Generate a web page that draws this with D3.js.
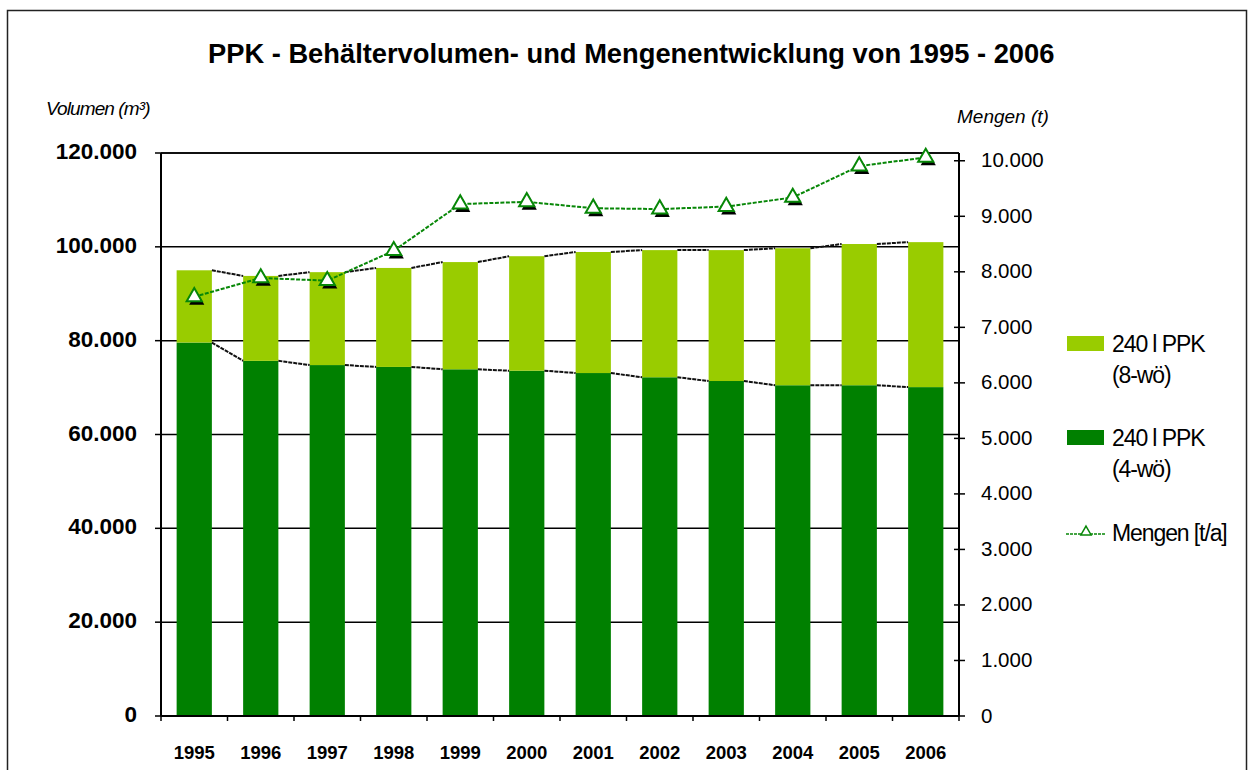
<!DOCTYPE html>
<html>
<head>
<meta charset="utf-8">
<script src="https://cdn.jsdelivr.net/npm/d3@7"></script>
<style>
  body { margin: 0; background: #fff; }
  svg { display: block; font-family: "Liberation Sans", Arial, sans-serif; }
</style>
</head>
<body>
<svg width="1252" height="770"></svg>
<script>
// data
var years = ["1995","1996","1997","1998","1999","2000","2001","2002","2003","2004","2005","2006"];
var vol4wo = [79600, 75700, 74800, 74400, 73900, 73600, 73100, 72200, 71400, 70500, 70500, 70100];
var vol8wo = [15400, 18100, 19800, 21100, 22850, 24400, 25800, 27100, 27900, 29200, 30100, 30900];
var mengen = [7550, 7890, 7840, 8380, 9220, 9260, 9145, 9130, 9175, 9340, 9905, 10060];
var leftTicks = [0, 20000, 40000, 60000, 80000, 100000, 120000];
var rightTicks = [0, 1000, 2000, 3000, 4000, 5000, 6000, 7000, 8000, 9000, 10000];

var svg = d3.select("svg"),
    plot = {left: 161, right: 959, top: 153, bottom: 716};

var de = d3.formatLocale({decimal: ",", thousands: ".", grouping: [3], currency: ["", " €"]});
var fmt = de.format(",d");

// outer frame
svg.append("rect")
    .attr("x", 7.5).attr("y", 10.5)
    .attr("width", 1239).attr("height", 800)
    .attr("fill", "none").attr("stroke", "#222").attr("stroke-width", 1.5);

svg.append("text")
    .attr("x", 208).attr("y", 63)
    .attr("font-weight", "bold")
    .attr("font-size", 27.3)
    .text("PPK - Behältervolumen- und Mengenentwicklung von 1995 - 2006");

// scales
var x = d3.scaleBand()
    .domain(years)
    .range([plot.left, plot.right])
    .paddingInner(0.47)
    .paddingOuter(0.235);

var yL = d3.scaleLinear().domain([0, 120000]).range([plot.bottom, plot.top]);
var yR = d3.scaleLinear().domain([0, 10140]).range([plot.bottom, plot.top]);

var g = svg.append("g");

// gridlines
g.selectAll(".grid")
    .data(leftTicks)
    .enter().append("line")
    .attr("x1", plot.left).attr("x2", plot.right)
    .attr("y1", function(d) { return yL(d); })
    .attr("y2", function(d) { return yL(d); })
    .attr("stroke", "#000").attr("stroke-width", 1.5);

// stacked bars
var stackData = years.map(function(y, i) { return {year: y, a: vol4wo[i], b: vol8wo[i]}; });

g.selectAll(".bar4")
    .data(stackData)
    .enter().append("rect")
    .attr("x", function(d) { return x(d.year); })
    .attr("width", x.bandwidth())
    .attr("y", function(d) { return yL(d.a); })
    .attr("height", function(d) { return yL(0) - yL(d.a); })
    .attr("fill", "#008000");

g.selectAll(".bar8")
    .data(stackData)
    .enter().append("rect")
    .attr("x", function(d) { return x(d.year); })
    .attr("width", x.bandwidth())
    .attr("y", function(d) { return yL(d.a + d.b); })
    .attr("height", function(d) { return yL(d.a) - yL(d.a + d.b); })
    .attr("fill", "#99cc00");

// series lines between bar tops
function seriesLines(val) {
  for (var i = 0; i < stackData.length - 1; i++) {
    g.append("line")
        .attr("x1", x(stackData[i].year) + x.bandwidth())
        .attr("x2", x(stackData[i + 1].year))
        .attr("y1", yL(val(stackData[i])))
        .attr("y2", yL(val(stackData[i + 1])))
        .attr("stroke", "#111").attr("stroke-width", 2)
        .attr("stroke-dasharray", "4,1");
  }
}
seriesLines(function(d) { return d.a; });
seriesLines(function(d) { return d.a + d.b; });

// axes frame
g.append("line").attr("x1", plot.left).attr("x2", plot.left)
    .attr("y1", plot.top).attr("y2", plot.bottom)
    .attr("stroke", "#000").attr("stroke-width", 2);
g.append("line").attr("x1", plot.right).attr("x2", plot.right)
    .attr("y1", plot.top).attr("y2", plot.bottom)
    .attr("stroke", "#000").attr("stroke-width", 2);
g.append("line").attr("x1", plot.left).attr("x2", plot.right)
    .attr("y1", plot.top).attr("y2", plot.top)
    .attr("stroke", "#000").attr("stroke-width", 1.5);
g.append("line").attr("x1", plot.left).attr("x2", plot.right)
    .attr("y1", plot.bottom).attr("y2", plot.bottom)
    .attr("stroke", "#000").attr("stroke-width", 2);

// left axis
var left = svg.append("g");
leftTicks.forEach(function(t) {
  left.append("line").attr("x1", plot.left - 6).attr("x2", plot.left)
      .attr("y1", yL(t)).attr("y2", yL(t))
      .attr("stroke", "#000").attr("stroke-width", 1.5);
  left.append("text")
      .attr("x", 137).attr("y", yL(t) + 6)
      .attr("text-anchor", "end")
      .attr("font-weight", "bold").attr("font-size", 22.5)
      .text(fmt(t));
});

// right axis
var right = svg.append("g");
rightTicks.forEach(function(t) {
  right.append("line").attr("x1", plot.right - 5).attr("x2", plot.right + 6)
      .attr("y1", yR(t)).attr("y2", yR(t))
      .attr("stroke", "#000").attr("stroke-width", 1.5);
  right.append("text")
      .attr("x", 981).attr("y", yR(t) + 6.5)
      .attr("font-size", 20.5)
      .text(fmt(t));
});

// x axis ticks at category borders, labels centred
var xa = svg.append("g");
var half = x.step() * x.paddingInner() / 2;
years.forEach(function(yr, i) {
  var b = x(yr) - half;
  xa.append("line").attr("x1", b).attr("x2", b)
      .attr("y1", plot.bottom).attr("y2", plot.bottom + 5)
      .attr("stroke", "#000").attr("stroke-width", 1.5);
  xa.append("text")
      .attr("x", x(yr) + x.bandwidth() / 2).attr("y", 759)
      .attr("text-anchor", "middle")
      .attr("font-weight", "bold").attr("font-size", 18.5)
      .text(yr);
});
xa.append("line").attr("x1", plot.right).attr("x2", plot.right)
    .attr("y1", plot.bottom).attr("y2", plot.bottom + 5)
    .attr("stroke", "#000").attr("stroke-width", 1.5);

// axis titles
svg.append("text")
    .attr("x", 46).attr("y", 114.5)
    .attr("font-style", "italic").attr("font-size", 19)
    .attr("letter-spacing", "-0.9")
    .text("Volumen (m³)");
svg.append("text")
    .attr("x", 957).attr("y", 122.5)
    .attr("font-style", "italic").attr("font-size", 19)
    .text("Mengen (t)");

// Mengen line
var line = d3.line()
    .x(function(d, i) { return x(years[i]) + x.bandwidth() / 2; })
    .y(function(d) { return yR(d); });

svg.append("path")
    .datum(mengen)
    .attr("d", line)
    .attr("fill", "none")
    .attr("stroke", "#078707").attr("stroke-width", 2)
    .attr("stroke-dasharray", "4,1.5");

var tri = d3.symbol().type(d3.symbolTriangle).size(100);
var marks = svg.append("g");
mengen.forEach(function(v, i) {
  var cx = x(years[i]) + x.bandwidth() / 2, cy = yR(v);
  marks.append("path").attr("d", tri)
      .attr("transform", "translate(" + (cx + 2.5) + "," + (cy + 3.5) + ")")
      .attr("fill", "#000");
  marks.append("path").attr("d", tri)
      .attr("transform", "translate(" + cx + "," + cy + ")")
      .attr("fill", "#fff").attr("stroke", "#078707").attr("stroke-width", 2);
});

// legend
var lg = svg.append("g").attr("font-size", 23).attr("letter-spacing", "-1.1");
lg.append("rect").attr("x", 1067).attr("y", 336).attr("width", 37).attr("height", 15).attr("fill", "#99cc00");
lg.append("text").attr("x", 1112).attr("y", 351.5).text("240 l PPK");
lg.append("text").attr("x", 1112).attr("y", 383).text("(8-wö)");
lg.append("rect").attr("x", 1067).attr("y", 430).attr("width", 37).attr("height", 15).attr("fill", "#008000");
lg.append("text").attr("x", 1112).attr("y", 446).text("240 l PPK");
lg.append("text").attr("x", 1112).attr("y", 477).text("(4-wö)");
lg.append("line").attr("x1", 1066).attr("x2", 1106).attr("y1", 534).attr("y2", 534)
    .attr("stroke", "#078707").attr("stroke-width", 1.5).attr("stroke-dasharray", "3,1");
lg.append("path").attr("d", d3.symbol().type(d3.symbolTriangle).size(45))
    .attr("transform", "translate(1086,532)")
    .attr("fill", "#fff").attr("stroke", "#078707").attr("stroke-width", 1.5);
lg.append("text").attr("x", 1112).attr("y", 541).text("Mengen [t/a]");
</script>
</body>
</html>
